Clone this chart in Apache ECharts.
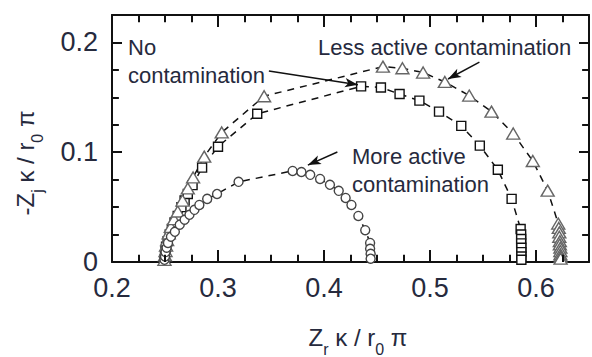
<!DOCTYPE html>
<html><head><meta charset="utf-8">
<script src="https://cdn.jsdelivr.net/npm/echarts@6/dist/echarts.min.js"></script>
<style>html,body{margin:0;padding:0;background:#fff}#c{width:592px;height:357px}</style>
</head><body><div id="c"></div>
<script>
// ---- data ----
const xTickLabels = ['0.2', '0.3', '0.4', '0.5', '0.6'];
const yTickLabels = ['0', '0.1', '0.2'];
const xMajorTicks = [0.2, 0.3, 0.4, 0.5, 0.6];
const xMinorTicks = [0.225, 0.25, 0.275, 0.325, 0.35, 0.375, 0.425, 0.45, 0.475, 0.525, 0.55, 0.575, 0.625];
const yMajorTicks = [0, 0.1, 0.2];
const yMinorTicks = [0.025, 0.05, 0.075, 0.125, 0.15, 0.175];

const lessActive = [ // triangles
  [0.2495,0.002],[0.250,0.006],[0.2505,0.010],[0.251,0.015],[0.252,0.020],[0.2535,0.026],
  [0.2555,0.032],[0.2585,0.039],[0.262,0.046],[0.2665,0.056],[0.2715,0.067],[0.2765,0.077],
  [0.287,0.096],[0.3035,0.118],[0.3435,0.151],[0.4556,0.178],[0.474,0.1765],[0.4935,0.1726],
  [0.514,0.164],[0.537,0.1516],[0.558,0.137],[0.5785,0.117],[0.597,0.092],[0.611,0.065],
  [0.621,0.035],[0.6215,0.031],[0.622,0.027],[0.622,0.023],[0.6225,0.019],[0.6225,0.016],
  [0.623,0.013],[0.623,0.010],[0.623,0.007],[0.6232,0.005],[0.6232,0.003]
];
const noContamination = [ // squares
  [0.2495,0.002],[0.250,0.006],[0.2505,0.010],[0.251,0.014],[0.2525,0.019],[0.2545,0.025],
  [0.2565,0.030],[0.259,0.036],[0.262,0.042],[0.2655,0.050],[0.2685,0.056],[0.2715,0.062],
  [0.276,0.070],[0.285,0.086],[0.300,0.105],[0.337,0.135],[0.435,0.160],[0.4537,0.159],
  [0.4713,0.153],[0.490,0.147],[0.5085,0.137],[0.5295,0.124],[0.547,0.106],[0.564,0.084],
  [0.577,0.0575],[0.5855,0.030],[0.586,0.025],[0.586,0.021],[0.586,0.017],[0.5862,0.013],
  [0.5862,0.009],[0.5862,0.005],[0.5862,0.002]
];
const moreActive = [ // circles
  [0.2495,0.002],[0.250,0.005],[0.2505,0.009],[0.2515,0.013],[0.2528,0.0174],[0.2556,0.023],
  [0.2593,0.0275],[0.2639,0.034],[0.2685,0.0385],[0.2731,0.043],[0.2778,0.0475],[0.2824,0.052],
  [0.2898,0.0575],[0.2991,0.062],[0.3194,0.073],[0.3704,0.083],[0.3787,0.082],[0.387,0.0794],
  [0.3963,0.0757],[0.4056,0.0703],[0.4139,0.0648],[0.4204,0.0584],[0.4259,0.052],[0.4324,0.042],
  [0.4389,0.029],[0.4435,0.0174],[0.4435,0.012],[0.444,0.0075],[0.444,0.003]
];

// annotation arrows (data coordinates: from -> to)
const arrowNoCont = [[0.348, 0.174], [0.432, 0.1615]];
const arrowLess = [[0.5466, 0.1821], [0.517, 0.1667]];
const arrowMore = [[0.4126, 0.1002], [0.3848, 0.0883]];

// ---- chart ----
const FONT = '"Liberation Sans", Arial, sans-serif';
const TXT = '#262a3d';
const INK = '#111';
const X_MIN = 0.2, X_MAX = 0.65, Y_MIN = 0, Y_MAX = 0.225;
// tick lengths expressed in axis units (vertical ticks use y units, horizontal ticks x units)
const TICK = { xMajor: 0.011, xMinor: 0.0065, yMajor: 0.0093, yMinor: 0.0065 };

function labelFor(list) {
  return function (v) {
    for (const s of list) if (Math.abs(parseFloat(s) - v) < 1e-6) return s;
    return '';
  };
}

function axis(position, min, max, label) {
  return {
    type: 'value', position, min, max, interval: 0.1,
    axisLine: { show: true, onZero: false, lineStyle: { color: INK, width: 2 } },
    axisTick: { show: true, inside: true, length: position === 'left' || position === 'right' ? 10 : 12, lineStyle: { color: INK, width: 2 } },
    minorTick: { show: false },
    splitLine: { show: false },
    axisLabel: label || { show: false }
  };
}

function series(name, data, symbol, size, border) {
  return {
    name, type: 'line', data, symbol, symbolSize: size, showSymbol: true,
    itemStyle: { color: '#fff', borderColor: border, borderWidth: 1.4 },
    lineStyle: { color: INK, width: 1.5, type: [7, 6] },
    emphasis: { disabled: true }, silent: true, animation: false
  };
}

function seg(a, b) { return [{ coord: a }, { coord: b }]; }

function tickSegments() {
  const s = [];
  xMajorTicks.forEach(v => { s.push(seg([v, Y_MIN], [v, Y_MIN + TICK.xMajor])); s.push(seg([v, Y_MAX], [v, Y_MAX - TICK.xMajor])); });
  xMinorTicks.forEach(v => { s.push(seg([v, Y_MIN], [v, Y_MIN + TICK.xMinor])); s.push(seg([v, Y_MAX], [v, Y_MAX - TICK.xMinor])); });
  yMajorTicks.forEach(v => { s.push(seg([X_MIN, v], [X_MIN + TICK.yMajor, v])); s.push(seg([X_MAX, v], [X_MAX - TICK.yMajor, v])); });
  yMinorTicks.forEach(v => { s.push(seg([X_MIN, v], [X_MIN + TICK.yMinor, v])); s.push(seg([X_MAX, v], [X_MAX - TICK.yMinor, v])); });
  return s;
}

// axis titles with subscripts, built from plain text pieces
const ctx = document.createElement('canvas').getContext('2d');
function measure(t, size) { ctx.font = size + 'px ' + FONT; return ctx.measureText(t).width; }
function titlePieces(pieces) {
  const MAIN = 24, SUB = 16, SUBDY = 12;
  const widths = pieces.map(p => measure(p[0], p[1] ? SUB : MAIN));
  const total = widths.reduce((a, b) => a + b, 0);
  let x = -total / 2;
  return pieces.map((p, i) => {
    const el = { type: 'text', x: x, y: p[1] ? SUBDY : 0, silent: true,
      style: { text: p[0], fontSize: p[1] ? SUB : MAIN, fontFamily: FONT, fill: TXT, align: 'left', verticalAlign: 'middle' } };
    x += widths[i];
    return el;
  });
}
const xTitle = [['Z', 0], ['r', 1], [' κ / r', 0], ['0', 1], [' π', 0]];
const yTitle = [['-Z', 0], ['j', 1], [' κ / r', 0], ['0', 1], [' π', 0]];

const xLabel = { show: true, margin: 12, fontSize: 27, color: TXT, fontFamily: FONT, formatter: labelFor(xTickLabels) };
const yLabel = { show: true, margin: 14, fontSize: 27, color: TXT, fontFamily: FONT, formatter: labelFor(yTickLabels) };

const chart = echarts.init(document.getElementById('c'), null, { renderer: 'svg' });
chart.setOption({
  animation: false,
  backgroundColor: '#fff',
  grid: { left: 112, right: -7, top: 15, bottom: 95 },
  xAxis: [axis('bottom', X_MIN, X_MAX, xLabel), axis('top', X_MIN, X_MAX)],
  yAxis: [axis('left', Y_MIN, Y_MAX, yLabel), axis('right', Y_MIN, Y_MAX)],
  series: [
    Object.assign(series('No contamination', noContamination, 'rect', 9, '#111'), {
      markLine: {
        silent: true, animation: false, symbol: ['none', 'none'],
        label: { show: false },
        lineStyle: { color: INK, width: 2, type: 'solid' },
        emphasis: { disabled: true },
        data: tickSegments()
      }
    }),
    series('Less active contamination', lessActive, 'triangle', [13, 11], '#666'),
    Object.assign(series('More active contamination', moreActive, 'circle', 9, '#444'), {
      markLine: {
        silent: true, animation: false,
        symbol: ['none', 'arrow'], symbolSize: [7, 13],
        label: { show: false },
        lineStyle: { color: INK, width: 1.5, type: 'solid' },
        emphasis: { disabled: true },
        data: [seg(arrowNoCont[0], arrowNoCont[1]), seg(arrowLess[0], arrowLess[1]), seg(arrowMore[0], arrowMore[1])]
      }
    })
  ],
  graphic: [
    { type: 'text', x: 128, y: 47, style: { text: 'No', fontSize: 22, fontFamily: FONT, fill: TXT, verticalAlign: 'middle' } },
    { type: 'text', x: 128, y: 75, style: { text: 'contamination', fontSize: 22, fontFamily: FONT, fill: TXT, verticalAlign: 'middle' } },
    { type: 'text', x: 318, y: 47, style: { text: 'Less active contamination', fontSize: 22, fontFamily: FONT, fill: TXT, verticalAlign: 'middle' } },
    { type: 'text', x: 352, y: 156, style: { text: 'More active', fontSize: 22, fontFamily: FONT, fill: TXT, verticalAlign: 'middle' } },
    { type: 'text', x: 352, y: 184, style: { text: 'contamination', fontSize: 22, fontFamily: FONT, fill: TXT, verticalAlign: 'middle' } },
    { type: 'group', x: 358, y: 337, children: titlePieces(xTitle) },
    { type: 'group', x: 25, y: 163, rotation: Math.PI / 2, children: titlePieces(yTitle) }
  ]
});
</script>
</body></html>
